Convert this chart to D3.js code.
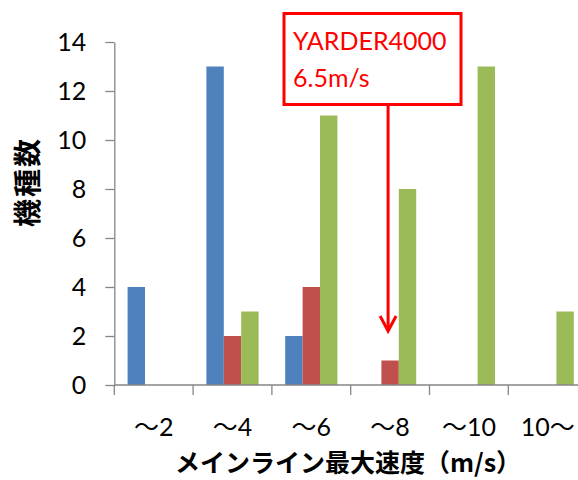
<!DOCTYPE html>
<html>
<head>
<meta charset="utf-8">
<script src="https://cdn.jsdelivr.net/npm/d3@7"></script>
<style>
  html, body { margin: 0; padding: 0; background: #fff; }
  svg { display: block; }
  .tick text { font-family: Lato, "Noto Sans CJK JP", sans-serif; }
</style>
</head>
<body>
<svg id="chart" width="578" height="480"></svg>
<script>
// Speed classes of main-line maximum speed (m/s)
const categories = ["～2", "～4", "～6", "～8", "～10", "10～"];
// Number of machine models per speed class, three groups
const seriesA = [4, 13, 2, 0, 0, 0];
const seriesB = [0, 2, 4, 1, 0, 0];
const seriesC = [0, 3, 11, 8, 13, 3];
const seriesNames = ["A", "B", "C"];
const seriesColors = ["#4F81BD", "#C0504D", "#9BBB59"];
const yTicks = [0, 2, 4, 6, 8, 10, 12, 14];
// Callout for the highlighted machine
const calloutLines = ["YARDER4000", "6.5m/s"];
const calloutCategory = "～8";

const svg = d3.select("#chart");
const plot = { left: 114.3, right: 587.1, top: 42, bottom: 385 };

const x = d3.scaleBand().domain(categories).range([plot.left, plot.right]).paddingInner(0).paddingOuter(0);
const xSub = d3.scaleBand().domain(seriesNames).range([13.3, x.bandwidth() - 13.3]).padding(0);
const y = d3.scaleLinear().domain([0, 14]).range([plot.bottom, plot.top]);

const rows = categories.map((c, i) => ({ cat: c, values: [seriesA[i], seriesB[i], seriesC[i]] }));

// Bars
const groups = svg.append("g").selectAll("g").data(rows).join("g")
  .attr("transform", d => `translate(${x(d.cat)},0)`);
groups.selectAll("rect")
  .data(d => d.values.map((v, j) => ({ v, name: seriesNames[j], color: seriesColors[j] })))
  .join("rect")
  .filter(d => d.v > 0)
  .attr("x", d => xSub(d.name))
  .attr("width", xSub.bandwidth())
  .attr("y", d => y(d.v))
  .attr("height", d => y(0) - y(d.v))
  .attr("fill", d => d.color);

// Y axis
const yAxis = svg.append("g")
  .attr("transform", `translate(${plot.left},0)`)
  .call(d3.axisLeft(y).tickValues(yTicks).tickSize(9).tickPadding(19).tickSizeOuter(0));
yAxis.select(".domain").attr("stroke", "#868686").attr("stroke-width", 1.3);
yAxis.selectAll(".tick line").attr("stroke", "#868686").attr("stroke-width", 1.3);
yAxis.selectAll(".tick text").attr("fill", "#000").attr("font-size", 25);

// X axis: ticks at category boundaries
const xAxis = svg.append("g").attr("transform", `translate(0,${plot.bottom})`);
xAxis.append("line")
  .attr("x1", plot.left).attr("x2", plot.right)
  .attr("stroke", "#868686").attr("stroke-width", 1.3);
xAxis.selectAll("line.bound")
  .data(categories.concat(["end"]))
  .join("line")
  .attr("class", "bound")
  .attr("x1", (d, i) => plot.left + i * x.step())
  .attr("x2", (d, i) => plot.left + i * x.step())
  .attr("y1", 0).attr("y2", 10)
  .attr("stroke", "#868686").attr("stroke-width", 1.3);
xAxis.selectAll("text")
  .data(categories)
  .join("text")
  .attr("x", d => x(d) + x.bandwidth() / 2)
  .attr("y", 51)
  .attr("text-anchor", "middle")
  .attr("font-family", 'Lato, "Noto Sans CJK JP", sans-serif')
  .attr("font-size", 25)
  .attr("fill", "#000")
  .text(d => d);

// Axis titles
svg.append("text")
  .attr("transform", "translate(38,182) rotate(-90)")
  .attr("text-anchor", "middle")
  .attr("font-family", '"Noto Sans CJK JP", sans-serif')
  .attr("font-weight", "bold")
  .attr("font-size", 28)
  .attr("letter-spacing", 2)
  .text("機種数");

svg.append("text")
  .attr("x", 348)
  .attr("y", 472)
  .attr("text-anchor", "middle")
  .attr("font-family", '"Noto Sans CJK JP", sans-serif')
  .attr("font-weight", "bold")
  .attr("font-size", 25)
  .text("メインライン最大速度（m/s）");

// Callout box with arrow pointing to the highlighted class
const red = "#FF0000";
const arrowX = x(calloutCategory) + x.bandwidth() / 2 - 2;
const callout = svg.append("g");
callout.append("rect")
  .attr("x", 284).attr("y", 13.5)
  .attr("width", 177).attr("height", 91)
  .attr("fill", "#fff")
  .attr("stroke", red).attr("stroke-width", 3);
callout.selectAll("text")
  .data(calloutLines)
  .join("text")
  .attr("x", 293)
  .attr("y", (d, i) => 50 + i * 37)
  .attr("font-family", 'Lato, sans-serif')
  .attr("font-size", 25)
  .attr("fill", red)
  .text(d => d);
callout.append("line")
  .attr("x1", arrowX).attr("x2", arrowX)
  .attr("y1", 105).attr("y2", 330)
  .attr("stroke", red).attr("stroke-width", 3);
callout.append("path")
  .attr("d", `M${arrowX - 8},${316} L${arrowX},${331} L${arrowX + 8},${316}`)
  .attr("fill", "none")
  .attr("stroke", red).attr("stroke-width", 3);
</script>
</body>
</html>
